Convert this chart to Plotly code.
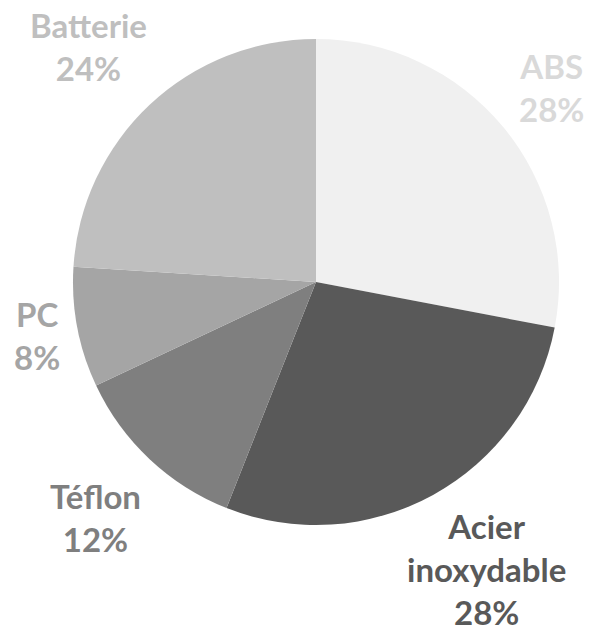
import math
import plotly.graph_objects as go

labels = ["ABS", "Acier<br>inoxydable", "Téflon", "PC", "Batterie"]
values = [28, 28, 12, 8, 24]
slice_colors = ["#f0f0f0", "#595959", "#7f7f7f", "#a5a5a5", "#bfbfbf"]
label_colors = ["#d9d9d9", "#595959", "#7f7f7f", "#a5a5a5", "#bfbfbf"]

W, H = 599, 633
cx, cy, r = 316, 282, 243
FS = 33
GAP = 18

fig = go.Figure(go.Pie(
    labels=labels,
    values=values,
    sort=False,
    direction="clockwise",
    rotation=0,
    marker=dict(colors=slice_colors, line=dict(width=0)),
    textinfo="none",
    showlegend=False,
    hoverinfo="label+percent",
    domain=dict(x=[(cx - r) / W, (cx + r) / W], y=[(H - cy - r) / H, (H - cy + r) / H]),
))

# data labels placed outside each slice, at the slice's mid-angle (best-fit style)
total = sum(values)
cum = 0
for lab, v, col in zip(labels, values, label_colors):
    mid = (cum + v / 2) / total * 2 * math.pi
    cum += v
    pct = f"{round(v / total * 100)}%"
    lines = lab.split("<br>") + [pct]
    w = max(len(s) for s in lines) * 0.45 * FS
    h = len(lines) * 1.3 * FS
    s, c = math.sin(mid), math.cos(mid)
    d = r + GAP + abs(s) * w / 2 + abs(c) * h / 2
    px = cx + d * s
    py = cy - d * c
    px = min(max(px, w / 2), W - w / 2)
    py = min(max(py, h / 2 + 4), H - h / 2)
    fig.add_annotation(
        x=px / W, y=1 - py / H, xref="paper", yref="paper",
        xanchor="center", yanchor="middle", align="center",
        text=lab + "<br>" + pct, showarrow=False,
        font=dict(family="Lato", size=FS, color=col, weight="bold"),
    )

fig.update_layout(
    width=W, height=H,
    margin=dict(l=0, r=0, t=0, b=0),
    paper_bgcolor="white",
    plot_bgcolor="white",
)

fig.write_html(
    "out.html",
    config={"displayModeBar": False},
    post_script="document.body.style.margin='0';document.body.style.overflow='hidden';",
)
